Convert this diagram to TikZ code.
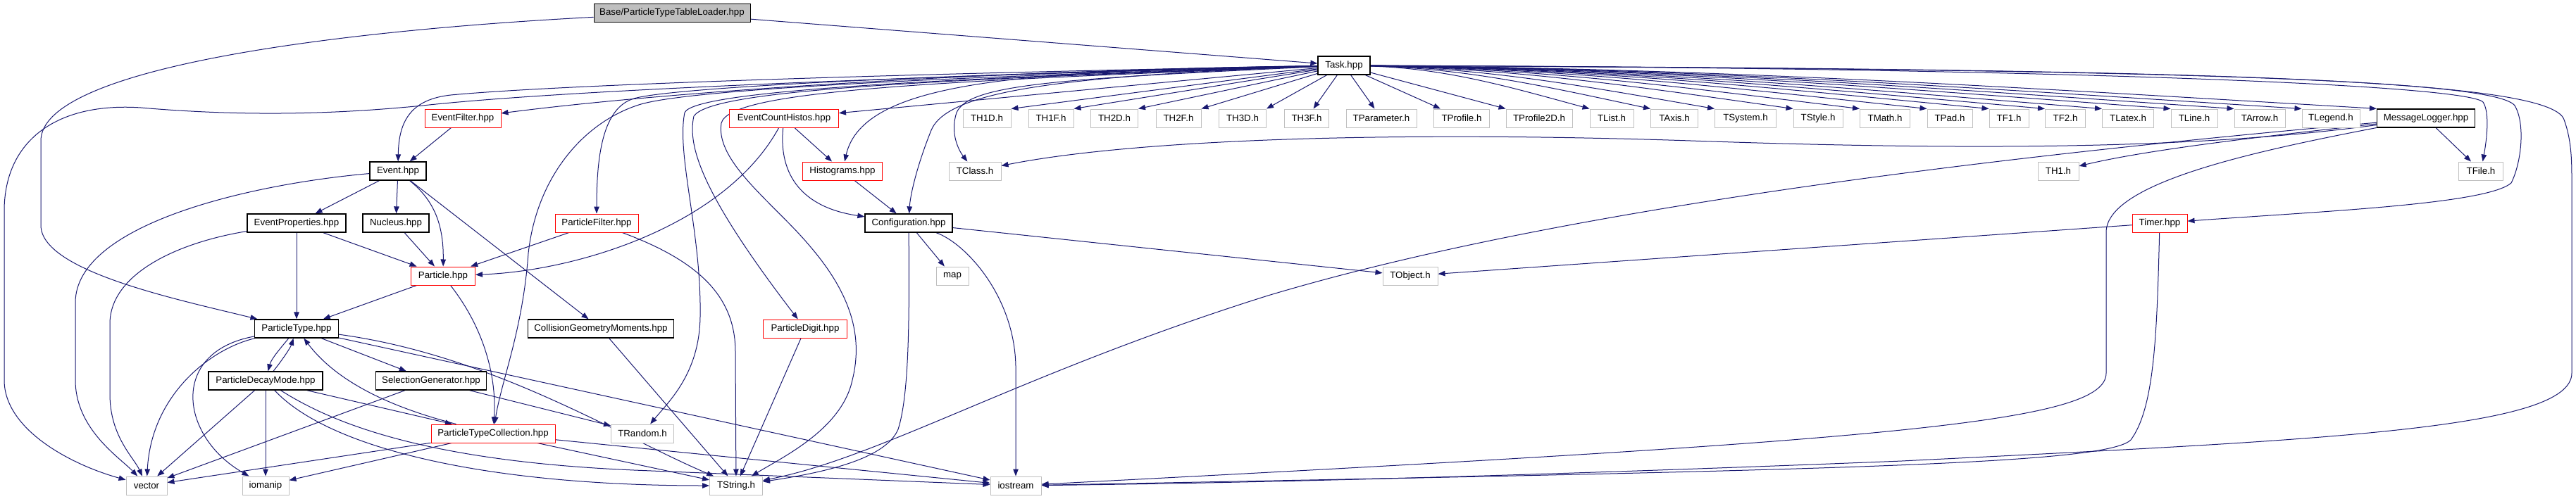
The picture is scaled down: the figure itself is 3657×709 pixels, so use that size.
\documentclass[tikz,border=0pt]{standalone}
\usepackage{fontspec}
\setmainfont{Liberation Sans}
\usetikzlibrary{arrows.meta}
\definecolor{edgeblue}{HTML}{191970}
\definecolor{mainfill}{HTML}{BFBFBF}
\definecolor{extgray}{HTML}{BFBFBF}
\pgfdeclarelayer{background}
\pgfsetlayers{background,main}
\tikzset{
  box/.style={rectangle, minimum height=26pt, inner sep=0pt, fill=white, font=\fontsize{13.3pt}{16pt}\selectfont},
  mainbox/.style={box, draw=black, fill=mainfill, line width=1pt},
  docbox/.style={box, draw=black, line width=1.3pt},
  redbox/.style={box, draw=red, line width=1pt},
  extbox/.style={box, draw=extgray, line width=1pt},
  dep/.style={draw=edgeblue, line width=1pt, -{Triangle[length=10pt,width=7.5pt]}}
}
\begin{document}
\begin{tikzpicture}[x=1pt,y=-1pt]
\useasboundingbox (0,0) rectangle (3657,709);
% row 0/1
\node[mainbox, minimum width=222pt] (base) at (954,18.5) {Base/ParticleTypeTableLoader.hpp};
\node[docbox, minimum width=74pt] (task) at (1908,93) {Task.hpp};
% row 2
\node[redbox, minimum width=108pt] (evfilter) at (657,168) {EventFilter.hpp};
\node[redbox, minimum width=155pt] (evcount) at (1113,168) {EventCountHistos.hpp};
\node[extbox, minimum width=68pt] (th1d) at (1401,168) {TH1D.h};
\node[extbox, minimum width=64pt] (th1f) at (1492,168) {TH1F.h};
\node[extbox, minimum width=67pt] (th2d) at (1582,168) {TH2D.h};
\node[extbox, minimum width=64pt] (th2f) at (1673,168) {TH2F.h};
\node[extbox, minimum width=67pt] (th3d) at (1764,168) {TH3D.h};
\node[extbox, minimum width=63pt] (th3f) at (1855,168) {TH3F.h};
\node[extbox, minimum width=100pt] (tparam) at (1961,168) {TParameter.h};
\node[extbox, minimum width=79pt] (tprof) at (2075,168) {TProfile.h};
\node[extbox, minimum width=94pt] (tprof2d) at (2185,168) {TProfile2D.h};
\node[extbox, minimum width=62pt] (tlist) at (2288,168) {TList.h};
\node[extbox, minimum width=67pt] (taxis) at (2377,168) {TAxis.h};
\node[extbox, minimum width=87pt] (tsystem) at (2478,168) {TSystem.h};
\node[extbox, minimum width=70pt] (tstyle) at (2581,168) {TStyle.h};
\node[extbox, minimum width=71pt] (tmath) at (2676,168) {TMath.h};
\node[extbox, minimum width=64pt] (tpad) at (2768,168) {TPad.h};
\node[extbox, minimum width=56pt] (tfone) at (2852,168) {TF1.h};
\node[extbox, minimum width=57pt] (tftwo) at (2932,168) {TF2.h};
\node[extbox, minimum width=73pt] (tlatex) at (3021,168) {TLatex.h};
\node[extbox, minimum width=66pt] (tline) at (3115,168) {TLine.h};
\node[extbox, minimum width=72pt] (tarrow) at (3208,168) {TArrow.h};
\node[extbox, minimum width=82pt] (tlegend) at (3309,168) {TLegend.h};
\node[docbox, minimum width=139pt] (msglog) at (3444,168) {MessageLogger.hpp};
% row 3
\node[docbox, minimum width=80pt] (event) at (565,243) {Event.hpp};
\node[redbox, minimum width=113pt] (hist) at (1196,243) {Histograms.hpp};
\node[extbox, minimum width=74pt] (tclass) at (1384,243) {TClass.h};
\node[extbox, minimum width=58pt] (thone) at (2922,243) {TH1.h};
\node[extbox, minimum width=63pt] (tfile) at (3522,243) {TFile.h};
% row 4
\node[docbox, minimum width=140pt] (evprops) at (421,317) {EventProperties.hpp};
\node[docbox, minimum width=94pt] (nucleus) at (562,317) {Nucleus.hpp};
\node[redbox, minimum width=118pt] (pfilter) at (847,317) {ParticleFilter.hpp};
\node[docbox, minimum width=124pt] (config) at (1290,317) {Configuration.hpp};
\node[redbox, minimum width=78pt] (timer) at (3066,317) {Timer.hpp};
% row 5
\node[redbox, minimum width=91pt] (particle) at (629,392) {Particle.hpp};
\node[extbox, minimum width=46pt] (map) at (1352,392) {map};
\node[extbox, minimum width=78pt] (tobject) at (2002,392) {TObject.h};
% row 6
\node[docbox, minimum width=119pt] (ptype) at (421,467) {ParticleType.hpp};
\node[docbox, minimum width=207pt] (cgm) at (853,467) {CollisionGeometryMoments.hpp};
\node[redbox, minimum width=119pt] (pdigit) at (1143,467) {ParticleDigit.hpp};
% row 7
\node[docbox, minimum width=162pt] (pdm) at (377,541) {ParticleDecayMode.hpp};
\node[docbox, minimum width=157pt] (selgen) at (612,541) {SelectionGenerator.hpp};
% row 8
\node[redbox, minimum width=176pt] (ptc) at (700,616) {ParticleTypeCollection.hpp};
\node[extbox, minimum width=89pt] (trandom) at (912,616) {TRandom.h};
% row 9
\node[extbox, minimum width=58pt] (vector) at (208,690) {vector};
\node[extbox, minimum width=66pt] (iomanip) at (377,690) {iomanip};
\node[extbox, minimum width=75pt] (tstring) at (1045,690) {TString.h};
\node[extbox, minimum width=72pt] (iostream) at (1442,690) {iostream};

\begin{pgfonlayer}{background}
% base
\draw[dep] (base) -- (task);
\draw[dep] (base) .. controls (450,45) and (58,100) .. (58,200) -- (58,320) .. controls (58,385) and (250,425) .. (ptype);
% task fan, left
\draw[dep] (task) -- (th1d.north east);
\draw[dep] (task) -- (th1f.north east);
\draw[dep] (task) -- (th2d.north east);
\draw[dep] (task) -- (th2f.north east);
\draw[dep] (task) -- (th3d.north east);
\draw[dep] (task) -- (th3f);
\draw[dep] (task) -- (tparam);
\draw[dep] (task) -- (tprof);
\draw[dep] (task) -- (tprof2d.north west);
% task fan, right
\draw[dep] (task) .. controls (2054,97) and (2148,125) .. (tlist.north west);
\draw[dep] (task) .. controls (2084,97) and (2204,125) .. (taxis.north west);
\draw[dep] (task) .. controls (2117,97) and (2263,125) .. (tsystem.north west);
\draw[dep] (task) .. controls (2155,97) and (2336,125) .. (tstyle.north west);
\draw[dep] (task) .. controls (2188,97) and (2397,125) .. (tmath.north west);
\draw[dep] (task) .. controls (2222,97) and (2459,125) .. (tpad.north west);
\draw[dep] (task) .. controls (2253,97) and (2516,125) .. (tfone.north west);
\draw[dep] (task) .. controls (2280,97) and (2568,125) .. (tftwo.north west);
\draw[dep] (task) .. controls (2309,97) and (2621,125) .. (tlatex.north west);
\draw[dep] (task) .. controls (2343,97) and (2684,125) .. (tline.north west);
\draw[dep] (task) .. controls (2374,97) and (2743,125) .. (tarrow.north west);
\draw[dep] (task) .. controls (2408,97) and (2805,125) .. (tlegend.north west);
\draw[dep] (task) .. controls (2445,97) and (2874,125) .. (msglog.north west);
% task far right
\draw[dep] (task) .. controls (2900,96) and (3500,120) .. (3525,145) .. controls (3535,160) and (3530,200) .. (tfile);
\draw[dep] (task) .. controls (3000,98) and (3540,110) .. (3570,150) .. controls (3585,175) and (3580,230) .. (3565,260) .. controls (3530,290) and (3300,300) .. (timer);
\draw[dep] (task) .. controls (3100,98) and (3620,110) .. (3640,170) .. controls (3651,200) and (3651,230) .. (3651,260) -- (3651,530) .. controls (3651,610) and (3300,625) .. (2700,655) .. controls (2200,675) and (1800,686) .. (iostream);
% task left bundle
\draw[dep] (task) -- (evcount);
\draw[dep] (task) .. controls (1400,100) and (950,130) .. (evfilter);
\draw[dep] (task) .. controls (1300,104) and (800,120) .. (640,135) .. controls (585,141) and (566,170) .. (event);
\draw[dep] (task) .. controls (1300,108) and (800,128) .. (600,150) .. controls (480,162) and (350,166) .. (200,153) .. controls (80,145) and (6,200) .. (6,300) -- (6,540) .. controls (6,610) and (100,660) .. (vector);
\draw[dep] (task) .. controls (1300,106) and (950,125) .. (900,140) .. controls (856,153) and (847,220) .. (pfilter);
\draw[dep] (task) .. controls (1300,110) and (980,128) .. (910,148) .. controls (830,172) and (762,250) .. (750,360) .. controls (742,470) and (712,540) .. (ptc);
\draw[dep] (task) .. controls (1300,112) and (985,130) .. (972,160) .. controls (960,220) and (996,330) .. (994,450) .. controls (993,530) and (950,570) .. (trandom);
\draw[dep] (task) .. controls (1300,114) and (1010,128) .. (985,165) .. controls (975,210) and (1000,280) .. (pdigit);
\draw[dep] (task) .. controls (1300,116) and (1035,130) .. (1024,175) .. controls (1015,230) and (1100,290) .. (1150,350) .. controls (1210,420) and (1225,480) .. (1210,540) .. controls (1195,610) and (1110,650) .. (tstring);
\draw[dep] (task) .. controls (1450,100) and (1225,115) .. (hist);
\draw[dep] (task) .. controls (1500,108) and (1345,130) .. (1322,185) .. controls (1300,240) and (1292,280) .. (config);
\draw[dep] (task) .. controls (1500,112) and (1375,120) .. (1358,160) .. controls (1348,190) and (1362,215) .. (tclass);
% message logger
\draw[dep] (msglog) .. controls (3100,215) and (2750,212) .. (2400,200) .. controls (1950,185) and (1600,200) .. (tclass);
\draw[dep] (msglog) .. controls (3250,190) and (3060,210) .. (thone);
\draw[dep] (msglog) -- (tfile);
\draw[dep] (msglog) .. controls (2800,225) and (2200,300) .. (1800,420) .. controls (1450,530) and (1250,650) .. (tstring);
\draw[dep] (msglog) .. controls (3200,215) and (2990,260) .. (2990,330) -- (2990,530) .. controls (2990,600) and (2700,625) .. (iostream);
% timer
\draw[dep] (timer) -- (tobject);
\draw[dep] (timer) .. controls (3062,480) and (3058,580) .. (3025,625) .. controls (2990,660) and (2600,668) .. (iostream);
% configuration
\draw[dep] (config) -- (map);
\draw[dep] (config) -- (tobject);
\draw[dep] (config) .. controls (1291,450) and (1291,560) .. (1275,610) .. controls (1258,650) and (1180,670) .. (tstring);
\draw[dep] (config) .. controls (1370,345) and (1440,420) .. (1442,520) -- (iostream);
\draw[dep] (hist) -- (config);
% event count histos
\draw[dep] (evcount) -- (hist);
\draw[dep] (evcount) .. controls (1105,250) and (1140,295) .. (config);
\draw[dep] (evcount) .. controls (1030,320) and (820,385) .. (particle);
% event filter / event
\draw[dep] (evfilter) -- (event);
\draw[dep] (event) -- (evprops);
\draw[dep] (event) -- (nucleus);
\draw[dep] (event) .. controls (610,280) and (630,310) .. (particle);
\draw[dep] (event) -- (cgm);
\draw[dep] (event) .. controls (350,262) and (107,320) .. (107,430) -- (107,540) .. controls (107,610) and (170,650) .. (vector);
% event properties
\draw[dep] (evprops) .. controls (250,345) and (156,390) .. (156,460) -- (156,560) .. controls (156,620) and (190,650) .. (vector);
\draw[dep] (evprops) -- (ptype);
\draw[dep] (evprops) -- (particle);
\draw[dep] (nucleus) -- (particle);
% particle filter
\draw[dep] (pfilter) -- (particle);
\draw[dep] (pfilter) .. controls (990,370) and (1044,420) .. (1044,500) -- (tstring);
% particle
\draw[dep] (particle) -- (ptype);
\draw[dep] (particle) .. controls (690,470) and (705,540) .. (ptc);
% particle type
\draw[dep] (ptype) .. controls (398,495) and (385,510) .. (pdm);
\draw[dep] (pdm) .. controls (398,515) and (412,495) .. (ptype);
\draw[dep] (ptype) -- (selgen);
\draw[dep] (ptype) .. controls (300,495) and (215,560) .. (vector);
\draw[dep] (ptype) .. controls (240,500) and (255,620) .. (iomanip);
\draw[dep] (ptype) -- (iostream);
\draw[dep] (ptype) .. controls (700,505) and (880,620) .. (tstring);
% particle decay mode
\draw[dep] (pdm) -- (vector);
\draw[dep] (pdm) -- (iomanip);
\draw[dep] (pdm) -- (ptc);
\draw[dep] (pdm) .. controls (470,640) and (700,690) .. (tstring);
\draw[dep] (pdm) .. controls (470,600) and (600,655) .. (900,668) -- (iostream);
% selection generator
\draw[dep] (selgen) -- (vector);
\draw[dep] (selgen) -- (trandom);
% particle type collection
\draw[dep] (ptc) .. controls (560,580) and (480,545) .. (ptype);
\draw[dep] (ptc) -- (vector);
\draw[dep] (ptc) -- (iomanip);
\draw[dep] (ptc) -- (tstring);
\draw[dep] (ptc) -- (iostream);
% others
\draw[dep] (cgm) -- (tstring);
\draw[dep] (pdigit) -- (tstring);
\end{pgfonlayer}
\end{tikzpicture}
\end{document}
